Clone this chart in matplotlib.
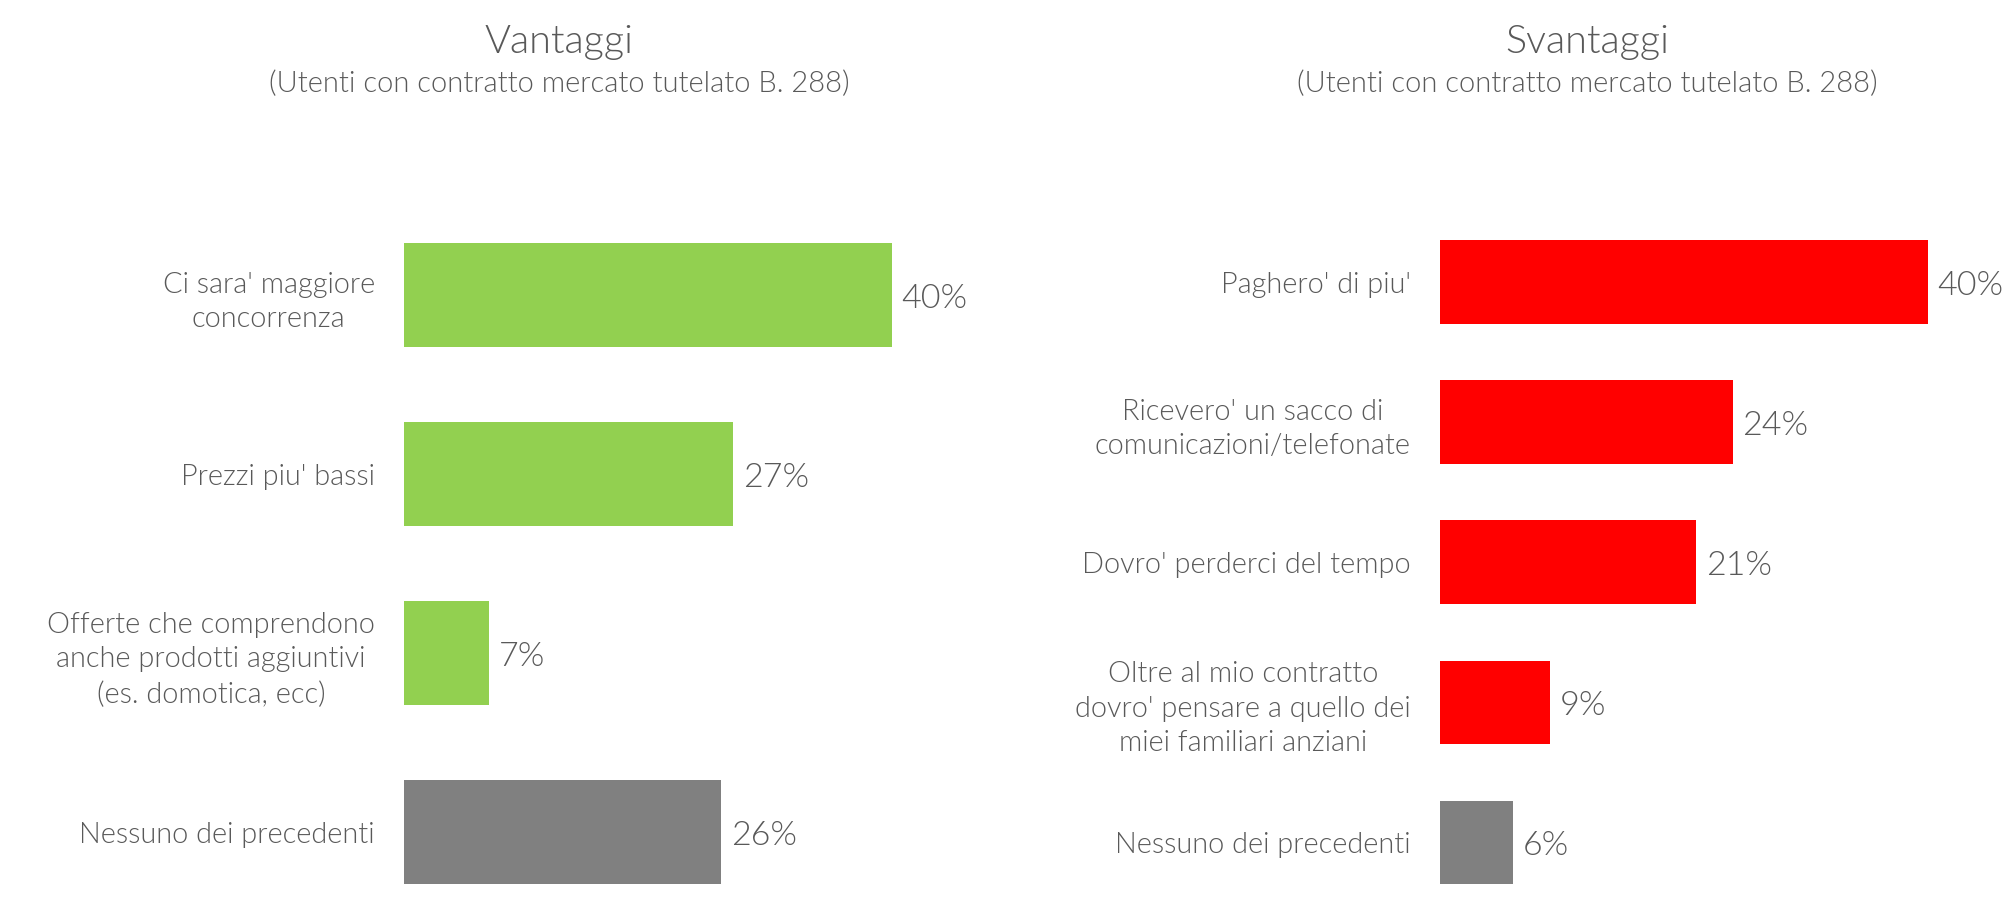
import matplotlib
matplotlib.use("Agg")
import matplotlib.pyplot as plt

plt.rcParams['font.family'] = ['Lato', 'DejaVu Sans']
plt.rcParams['font.weight'] = 300

# Data
vant_labels = ["Ci sara' maggiore\nconcorrenza", "Prezzi piu' bassi",
               "Offerte che comprendono\nanche prodotti aggiuntivi\n(es. domotica, ecc)",
               "Nessuno dei precedenti"]
vant_values = [40, 27, 7, 26]
vant_colors = ["#92D050", "#92D050", "#92D050", "#808080"]

svant_labels = ["Paghero' di piu'", "Ricevero' un sacco di\ncomunicazioni/telefonate",
                "Dovro' perderci del tempo",
                "Oltre al mio contratto\ndovro' pensare a quello dei\nmiei familiari anziani",
                "Nessuno dei precedenti"]
svant_values = [40, 24, 21, 9, 6]
svant_colors = ["#FF0000", "#FF0000", "#FF0000", "#FF0000", "#808080"]

TXT = "#595959"
W, H = 2008, 906
fig = plt.figure(figsize=(W / 100, H / 100), dpi=100)

def panel(left_px, top_px, x_px_per_unit, labels, values, colors, height, ybot):
    width_px = 45 * x_px_per_unit
    ax = fig.add_axes([left_px / W, 0, width_px / W, (H - top_px) / H])
    y = list(range(len(values)))
    ax.barh(y, values, height=height, color=colors)
    ax.set_xlim(0, 45)
    ax.set_ylim(ybot, -0.5)
    ax.set_yticks(y)
    ax.set_yticklabels(labels, fontsize=20.8, color=TXT, multialignment='center',
                       fontweight=300)
    for lbl in ax.get_yticklabels():
        lbl.set_linespacing(1.4)
    ax.tick_params(axis='y', length=0, pad=21)
    ax.set_xticks([])
    for s in ax.spines.values():
        s.set_visible(False)
    for yi, v in zip(y, values):
        ax.annotate(f"{v}%", (v, yi), xytext=(7, -3), textcoords='offset points',
                    va='center', ha='left', fontsize=24.5, color=TXT, fontweight=300)
    return ax

panel(404, 205.5, 12.2, vant_labels, vant_values, vant_colors, 0.585, 3.413)
panel(1440, 212, 12.2, svant_labels, svant_values, svant_colors, 0.593, 4.457)

for cx, t in [(559, "Vantaggi"), (1587, "Svantaggi")]:
    fig.text(cx / W, 1 - 42 / H, t, ha='center', va='center', fontsize=28.5,
             color=TXT, fontweight=300)
    fig.text(cx / W, 1 - 84 / H, "(Utenti con contratto mercato tutelato B. 288)",
             ha='center', va='center', fontsize=21, color=TXT, fontweight=300)

fig.savefig("out.png", dpi=100, facecolor='white')
